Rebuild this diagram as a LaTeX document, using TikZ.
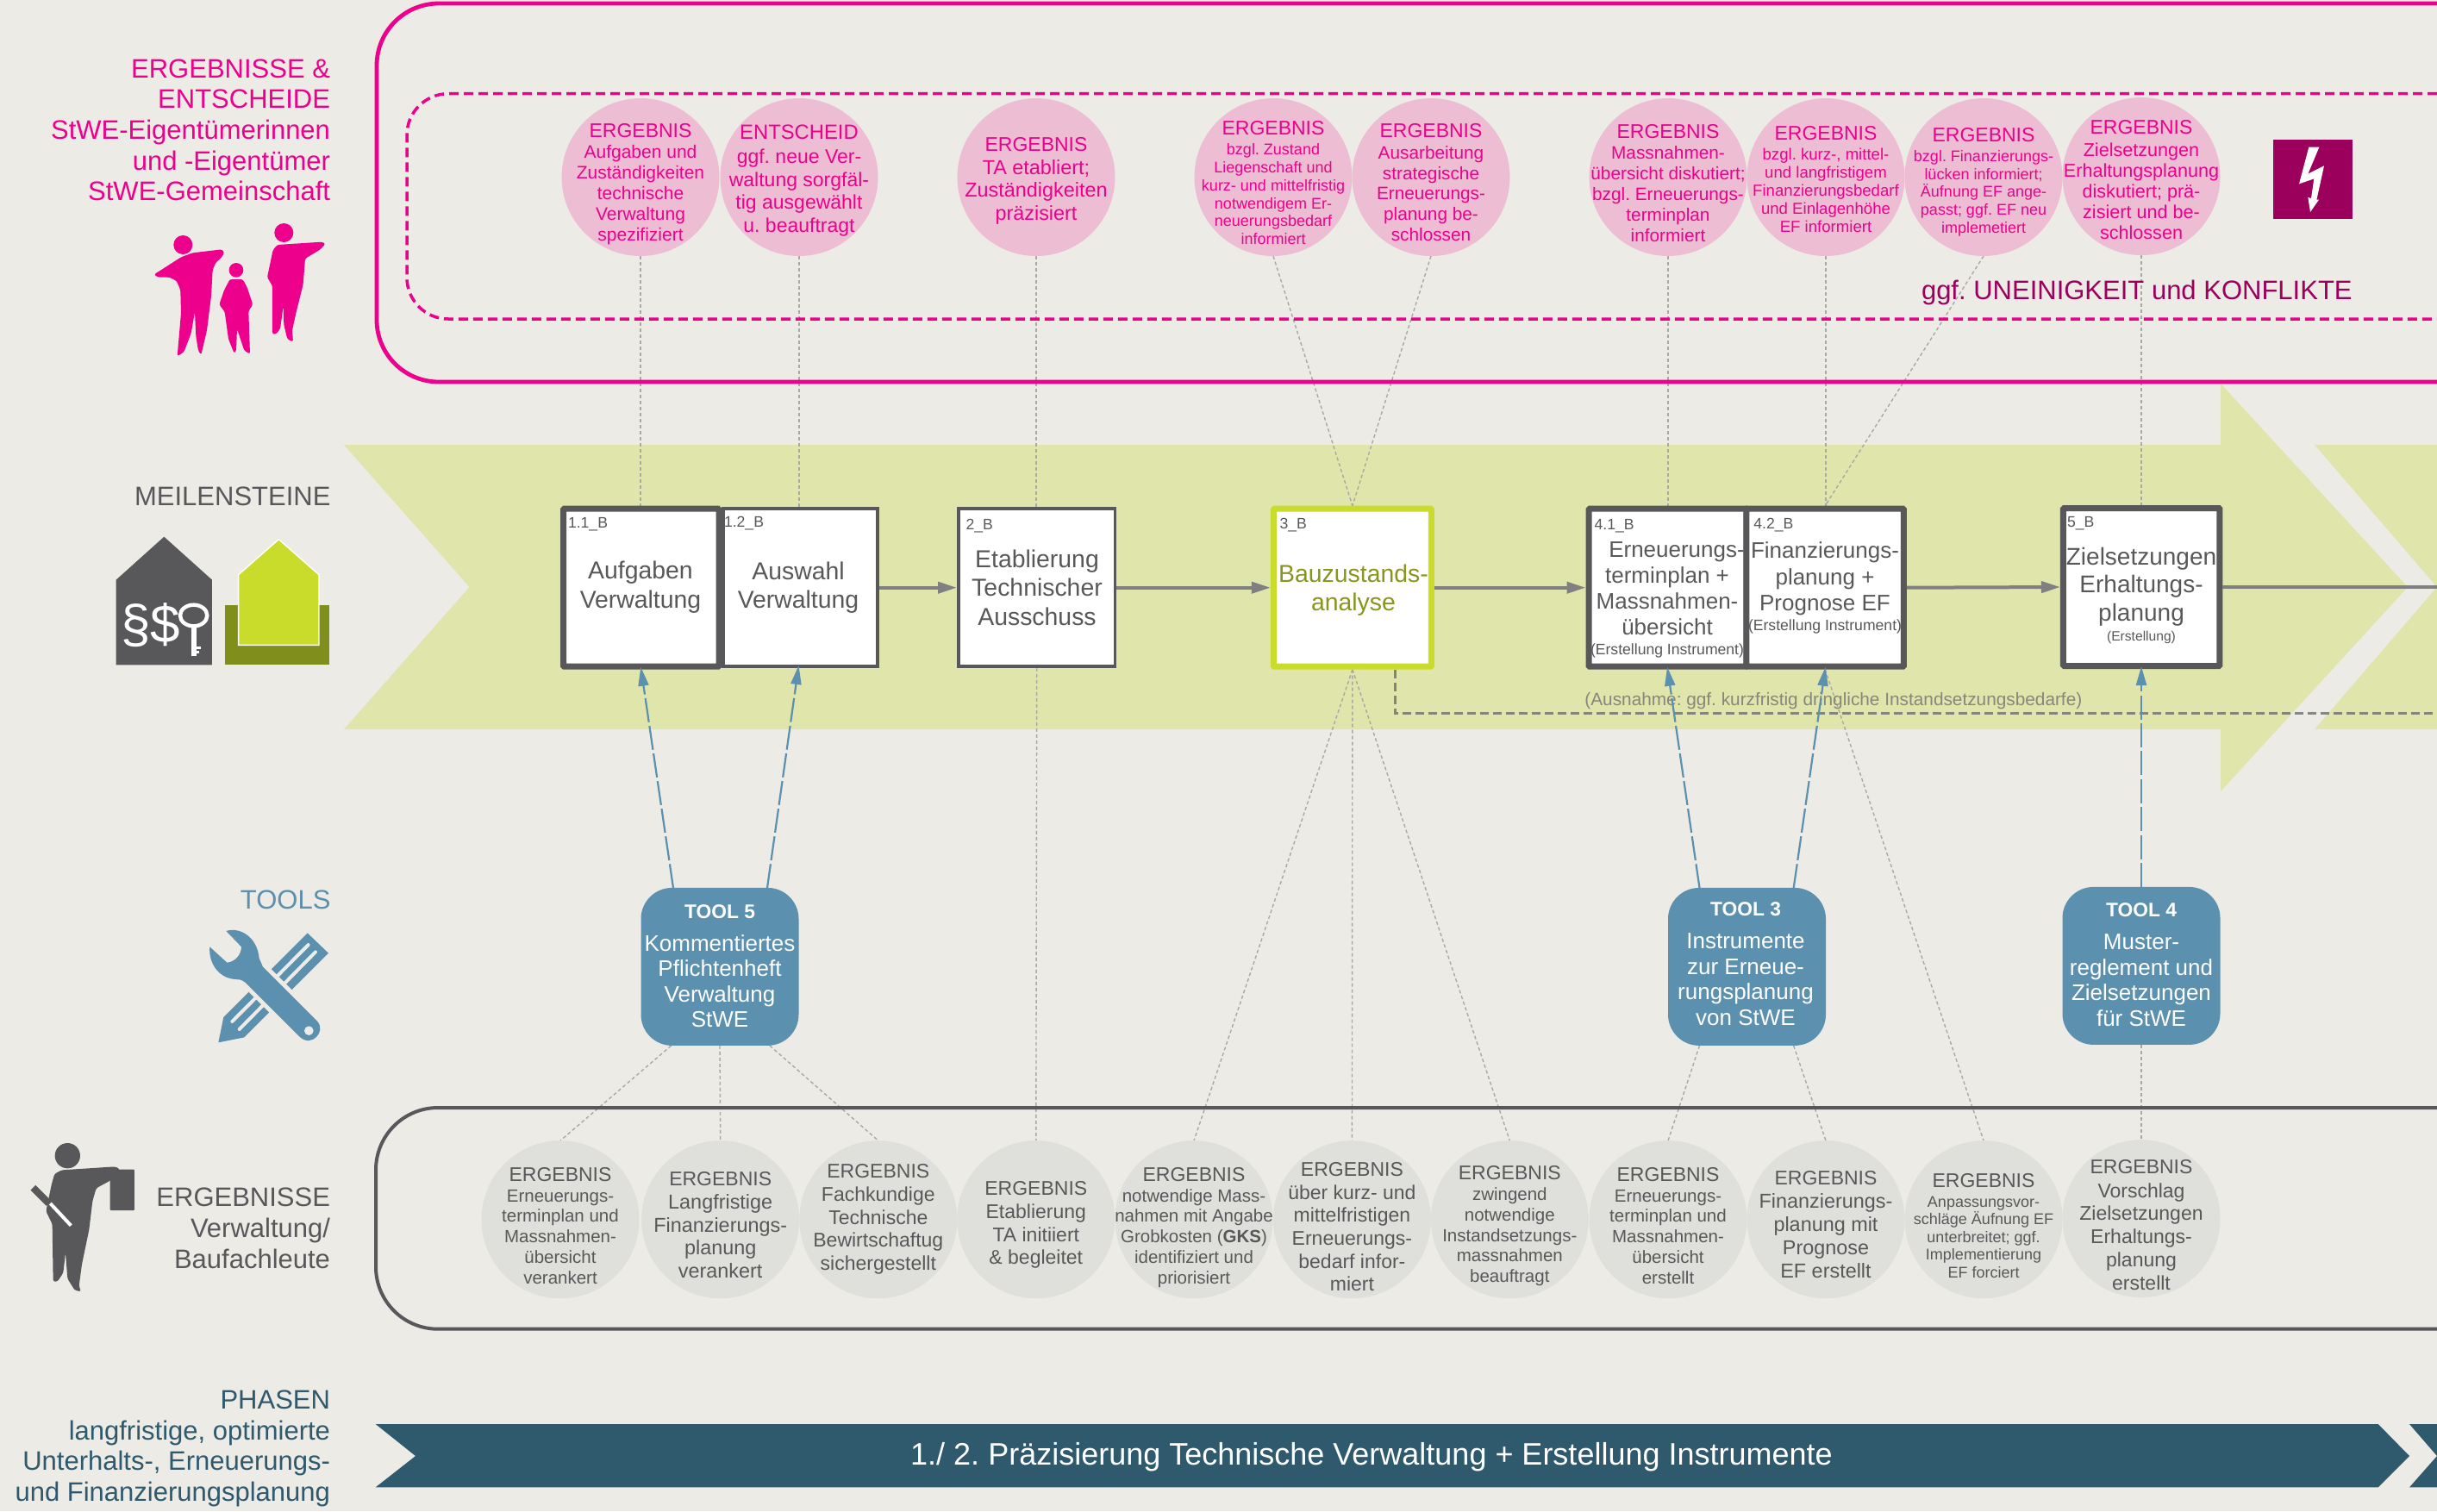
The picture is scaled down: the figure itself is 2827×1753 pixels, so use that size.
\documentclass[tikz,border=0pt]{standalone}
\usepackage{fontspec}
\setmainfont{Liberation Sans}
\usetikzlibrary{arrows.meta,shapes.geometric}
\frenchspacing
\definecolor{bgc}{HTML}{ECEBE6}
\definecolor{pinkc}{HTML}{EC008C}
\definecolor{pinkfill}{HTML}{ECBDD3}
\definecolor{magc}{HTML}{9B005D}
\definecolor{greyc}{HTML}{58585A}
\definecolor{limec}{HTML}{C9DB2B}
\definecolor{olivec}{HTML}{87961C}
\definecolor{bluec}{HTML}{5B90AE}
\definecolor{phasec}{HTML}{2F596D}
\definecolor{chevc}{HTML}{E0E5AC}
\definecolor{greyfill}{HTML}{DFDFDB}
\definecolor{arrowc}{HTML}{808080}
\definecolor{connc}{HTML}{A9A9A4}
\definecolor{notec}{HTML}{85887A}
\pgfdeclarelayer{back}\pgfdeclarelayer{conn}
\pgfsetlayers{back,conn,main}
\newcommand\fsz[2]{\fontsize{#1}{#2}\selectfont}
\newcommand\hd[1]{{\fsz{11.5}{12}#1}}
\tikzset{
  px/.style={x=0.5pt,y=-0.5pt},
  txt/.style={anchor=base,align=center,inner sep=0pt,outer sep=0pt},
  sidelabel/.style={anchor=base east,align=right,inner sep=0pt,outer sep=0pt,font=\fsz{15.5}{17.8}},
  pinkball/.style={circle,fill=pinkfill,minimum size=91.5pt,inner sep=0pt,outer sep=0pt},
  greyball/.style={circle,fill=greyfill,minimum size=91.5pt,inner sep=0pt,outer sep=0pt},
  pinktxt/.style={txt,text=pinkc},
  greytxt/.style={txt,text=greyc},
  boldbox/.style={rectangle,draw=greyc,fill=white,line width=3.5pt,minimum height=91.5pt,inner sep=0pt,rounded corners=0.5pt},
  thinbox/.style={rectangle,draw=greyc,fill=white,line width=1.75pt,minimum height=91.5pt,inner sep=0pt},
  limebox/.style={rectangle,draw=limec,fill=white,line width=3.5pt,minimum height=91.5pt,inner sep=0pt,rounded corners=0.5pt},
  boxid/.style={anchor=base west,inner sep=0pt,outer sep=0pt,text=greyc,font=\fsz{8.8}{10}},
  toolbox/.style={rectangle,fill=bluec,rounded corners=18pt,minimum width=91.5pt,minimum height=91.5pt,inner sep=0pt,outer sep=0pt},
  tooltxt/.style={txt,text=white,font=\fsz{13}{14.7}},
  flow/.style={draw=arrowc,line width=2pt,-{Triangle[length=11pt,width=6.5pt]}},
  flowend/.style={draw=arrowc,line width=2pt},
  thinconn/.style={draw=connc,line width=0.7pt,dash pattern=on 2pt off 1.5pt},
  toolarrow/.style={draw=bluec,line width=1.1pt,dash pattern=on 14pt off 2.2pt,shorten >=-1.5pt,-{Triangle[length=11pt,width=6pt]}},
  silhouette/.style={rounded corners=1.2pt,draw=none},
}
\newcommand\Ball[8]{% name,x,y,style,basey,size,leading,text
  \node[#4ball] (#1) at (#2,#3) {};
  \node[#4txt,font=\fsz{#6}{#7}] (#1t) at (#2,#5) {#8};}
\begin{document}
\begin{tikzpicture}[px]
\useasboundingbox (0,0) rectangle (2827,1753);
\begin{pgfonlayer}{back}
\fill[bgc] (0,0) rectangle (2827,1753);
% big chevrons
\fill[chevc] (399,516) -- (2576,516) -- (2576,445) -- (2793,681) -- (2576,918) -- (2576,846) -- (399,846) -- (544.6,681) -- cycle;
\fill[chevc] (2685,516) -- (2827,681) -- (2685,846) -- (2827,846) -- (2827,516) -- cycle;
% phase bar
\fill[phasec] (435.7,1652) -- (2758.7,1652) -- (2795,1689) -- (2758.7,1725.3) -- (435.7,1725.3) -- (482,1689) -- cycle;
\fill[phasec] (2795,1652) -- (2827,1689) -- (2795,1725.3) -- (2827,1725.3) -- (2827,1652) -- cycle;
\end{pgfonlayer}

% frames
\draw[pinkc,line width=2.4pt,rounded corners=36pt] (2827,4) -| (437,443) -- (2827,443);
\draw[pinkc,line width=1.75pt,dash pattern=on 5.5pt off 3pt,rounded corners=24pt] (2827,108.7) -| (472,370) -- (2827,370);
\draw[greyc,line width=2pt,rounded corners=36pt] (2827,1285) -| (436,1541.7) -- (2827,1541.7);

% side labels
\node[sidelabel,text=pinkc] (lab1) at (383,232.7) {ERGEBNISSE \&\\ENTSCHEIDE\\StWE-Eigentümerinnen\\und -Eigentümer\\StWE-Gemeinschaft};
\node[sidelabel,text=greyc] (lab2) at (383.5,586.7) {MEILENSTEINE};
\node[sidelabel,text=bluec] (lab3) at (383.5,1054) {TOOLS};
\node[sidelabel,text=greyc] (lab4) at (383,1471) {ERGEBNISSE\\Verwaltung/\\Baufachleute};
\node[sidelabel,text=phasec] (lab5) at (383,1741.5) {PHASEN\\langfristige, optimierte\\Unterhalts-, Erneuerungs-\\und Finanzierungsplanung};

% people icon
\begin{scope}[shift={(170,250)},x=0.5pt/3,y=-0.5pt/3]
\fill[pinkc] (127,102) circle[radius=33];
\fill[pinkc] (312,190) circle[radius=25];
\fill[pinkc] (478,60) circle[radius=33];
\fill[pinkc,silhouette] (120,145) -- (160,130) -- (262,118) -- (271,128) -- (262,145) -- (240,165) -- (230,190) -- (225,280) -- (210,400) -- (190,485) -- (180,470) -- (172,420) -- (168,335) -- (155,410) -- (130,475) -- (107,490) -- (120,340) -- (118,260) -- (105,228) -- (80,215) -- (40,215) -- (26,205) -- (50,190) -- cycle;
\fill[pinkc,silhouette] (290,222) -- (335,222) -- (350,250) -- (370,310) -- (355,332) -- (360,482) -- (340,470) -- (315,395) -- (312,470) -- (305,480) -- (285,430) -- (272,335) -- (253,310) -- (270,260) -- cycle;
\fill[pinkc,silhouette] (455,102) -- (610,92) -- (623,98) -- (605,118) -- (552,150) -- (545,240) -- (520,340) -- (507,400) -- (510,440) -- (490,430) -- (478,380) -- (476,315) -- (465,395) -- (450,413) -- (438,413) -- (438,245) -- (420,215) -- (440,120) -- cycle;
\end{scope}

% houses icon
\begin{scope}[shift={(120,610)},x=0.5pt/3,y=-0.5pt/3]
\fill[greyc] (44,188) -- (211,38) -- (378,188) -- (378,484) -- (44,484) -- cycle;
\fill[olivec!95!black] (423,276) rectangle (786,484);
\filldraw[fill=limec,draw=white,line width=0.7pt] (470,170) -- (610,47) -- (750,170) -- (750,415) -- (470,415) -- cycle;
\node[anchor=base west,inner sep=0pt,text=white,font=\fsz{31}{31}] (sym) at (60,405) {§\$};
\draw[white,line width=2.2pt] (314,312) ellipse[x radius=47,y radius=37];
\draw[white,line width=3pt] (314,348) -- (314,452);
\draw[white,line width=1.5pt] (318,425) -- (340,425) (318,440) -- (334,440);
\end{scope}

% lightning
\fill[magc] (2637,162) rectangle (2729,254);
\begin{scope}[shift={(2620,150)},x=0.5pt/3,y=-0.5pt/3]
\fill[white] (175,62) -- (211,62) -- (172,155) -- (228,127) -- (202,245) -- (210,245) -- (180,288) -- (172,237) -- (183,240) -- (193,172) -- (141,190) -- cycle;
\end{scope}
\node[anchor=base east,inner sep=0pt,text=magc,font=\fsz{15.5}{17}] (konf) at (2729,347) {ggf. UNEINIGKEIT und KONFLIKTE};

% tools icon
\begin{scope}[shift={(230,1070)},x=0.5pt/3,y=-0.5pt/3]
\fill[bluec] (380,37) -- (453,107) -- (160,400) -- (70,418) -- (88,330) -- cycle;
\draw[bgc,line width=2pt,line cap=round] (383,78) -- (118,345) (408,103) -- (143,372);
\path[draw=bgc,line width=5pt,line join=round] (225,155) -- (415,345) (165,210) -- (355,400);
\fill[bluec] (97,30) .. controls (145,15) and (205,50) .. (212,125) -- (225,155) -- (415,345) .. controls (445,380) and (395,435) .. (355,400) -- (165,210) .. controls (150,198) and (140,198) .. (130,198) .. controls (70,195) and (35,140) .. (40,85) -- (100,140) .. controls (125,138) and (150,115) .. (150,85) -- cycle;
\fill[bgc] (385,377) circle[radius=16];
\end{scope}

% man icon
\begin{scope}[shift={(20,1310)},x=0.5pt/3,y=-0.5pt/3]
\fill[greyc,rounded corners=0.5pt] (323,140) rectangle (408,282);
\fill[greyc] (175,92) circle[radius=44];
\draw[greyc,line width=4pt] (55,203) -- (110,258);
\fill[greyc,silhouette] (155,142) -- (340,130) -- (357,138) -- (350,150) -- (325,178) -- (275,205) -- (262,250) -- (250,350) -- (225,470) -- (215,545) -- (222,565) -- (200,560) -- (175,520) -- (168,430) -- (160,500) -- (140,530) -- (125,530) -- (122,330) -- (100,285) -- (120,190) -- (130,155) -- cycle;
\draw[white,line width=2pt] (115,258) -- (187,335);
\end{scope}

% pink balls
\Ball{e1}{743}{205.5}{pink}{279}{10.5}{12}{\hd{ERGEBNIS}\\Aufgaben und\\Zuständigkeiten\\technische\\Verwaltung\\spezifiziert}
\Ball{e2}{927}{205.5}{pink}{269}{11.5}{13.2}{{\fsz{11.9}{13}ENTSCHEID}\\[1.2pt]ggf. neue Ver-\\waltung sorgfäl-\\tig ausgewählt\\u. beauftragt}
\Ball{e3}{1202}{205.5}{pink}{255.5}{11.7}{13.3}{\hd{ERGEBNIS}\\TA etabliert;\\Zuständigkeiten\\präzisiert}
\Ball{e4}{1477}{205.5}{pink}{283.7}{9}{10.4}{\hd{ERGEBNIS}\\[1.2pt]bzgl. Zustand\\Liegenschaft und\\kurz- und mittelfristig\\notwendigem Er-\\neuerungsbedarf\\informiert}
\Ball{e5}{1660}{205.5}{pink}{279.3}{10.4}{11.85}{\hd{ERGEBNIS}\\[0.6pt]Ausarbeitung\\strategische\\Erneuerungs-\\planung be-\\schlossen}
\Ball{e6}{1935}{205.5}{pink}{280}{10.4}{11.9}{\hd{ERGEBNIS}\\[0.4pt]Massnahmen-\\übersicht diskutiert;\\bzgl. Erneuerungs-\\terminplan\\informiert}
\Ball{e7}{2118}{205.5}{pink}{269.3}{9.3}{10.5}{\hd{ERGEBNIS}\\[0.8pt]bzgl. kurz-, mittel-\\und langfristigem\\Finanzierungsbedarf\\und Einlagenhöhe\\EF informiert}
\Ball{e8}{2301}{205.5}{pink}{270}{9}{10.3}{\hd{ERGEBNIS}\\[1.2pt]bzgl. Finanzierungs-\\lücken informiert;\\Äufnung EF ange-\\passt; ggf. EF neu\\implemetiert}
\Ball{e9}{2484}{204.5}{pink}{277.3}{10.8}{12}{\hd{ERGEBNIS}\\[0.8pt]Zielsetzungen\\Erhaltungsplanung\\diskutiert; prä-\\zisiert und be-\\schlossen}

% milestone boxes
\node[thinbox,minimum width=89.3pt] (m2) at (928.5,681.7) {};
\node[boldbox,minimum width=90.25pt] (m1) at (743.75,681.7) {};
\node[thinbox,minimum width=90.9pt] (m3) at (1202.7,681.7) {};
\node[limebox,minimum width=91.5pt] (m4) at (1568.9,681.7) {};
\node[boldbox,minimum width=91.5pt] (m5) at (1934.5,681.7) {};
\node[boldbox,minimum width=91.25pt] (m6) at (2117.2,681.7) {};
\node[boldbox,minimum width=90.75pt] (m7) at (2484.2,681) {};
\node[boxid] (id1) at (659,612.7) {1.1\_B};
\node[boxid] (id2) at (840,611.7) {1.2\_B};
\node[boxid] (id3) at (1120.5,614) {2\_B};
\node[boxid] (id4) at (1484.6,613.3) {3\_B};
\node[boxid] (id5) at (1849.6,614.3) {4.1\_B};
\node[boxid] (id6) at (2034.3,613) {4.2\_B};
\node[boxid] (id7) at (2398,611.7) {5\_B};
\node[greytxt,font=\fsz{14.2}{16.6}] (m1t) at (743,705) {Aufgaben\\Verwaltung};
\node[greytxt,font=\fsz{14.2}{16.4}] (m2t) at (926,705) {Auswahl\\Verwaltung};
\node[greytxt,font=\fsz{14.2}{16.6}] (m3t) at (1203,725) {Etablierung\\Technischer\\Ausschuss};
\node[txt,text=olivec,font=\fsz{14.2}{16.6}] (m4t) at (1570,708.3) {Bauzustands-\\analyse};
\node[greytxt,font=\fsz{13}{15}] (m5t) at (1934,759.3) {\hspace*{11pt}Erneuerungs-\\terminplan +\\Massnahmen-\\übersicht\\[-3.7pt]{\fsz{8.8}{10}(Erstellung Instrument)}};
\node[greytxt,font=\fsz{13}{15.3}] (m6t) at (2117,731.7) {Finanzierungs-\\planung +\\Prognose EF\\[-3.9pt]{\fsz{8.8}{10}(Erstellung Instrument)}};
\node[greytxt,font=\fsz{14}{16.4}] (m7t) at (2484,743.3) {Zielsetzungen\\Erhaltungs-\\planung\\[-5.1pt]{\fsz{7.8}{9}(Erstellung)}};

% tools
\node[toolbox] (t5) at (835,1121.4) {};
\node[toolbox] (t3) at (2026.5,1121.4) {};
\node[toolbox] (t4) at (2484,1120.4) {};
\node[tooltxt] (t5t) at (835,1191.7) {{\fsz{11.4}{13}\bfseries TOOL 5}\\[4.3pt]Kommentiertes\\Pflichtenheft\\Verwaltung\\StWE};
\node[tooltxt] (t3t) at (2025,1189) {{\fsz{11.4}{13}\bfseries TOOL 3}\\[4.3pt]Instrumente\\zur Erneue-\\rungsplanung\\von StWE};
\node[tooltxt] (t4t) at (2484,1190) {{\fsz{11.4}{13}\bfseries TOOL 4}\\[4.3pt]Muster-\\reglement und\\Zielsetzungen\\für StWE};

% grey balls
\Ball{g1}{650}{1414.7}{grey}{1489.6}{10.25}{11.95}{\hd{ERGEBNIS}\\Erneuerungs-\\terminplan und\\Massnahmen-\\übersicht\\verankert}
\Ball{g2}{835.7}{1414.7}{grey}{1482.5}{11.7}{13.35}{\hd{ERGEBNIS}\\Langfristige\\Finanzierungs-\\planung\\verankert}
\Ball{g3}{1018.8}{1414.7}{grey}{1473.4}{11.5}{13.3}{\hd{ERGEBNIS}\\[0.4pt]Fachkundige\\Technische\\Bewirtschaftug\\sichergestellt}
\Ball{g4}{1201.8}{1414.7}{grey}{1466.8}{11.5}{13.4}{\hd{ERGEBNIS}\\Etablierung\\TA initiiert\\\& begleitet}
\Ball{g5}{1385}{1414.7}{grey}{1489.6}{10.25}{11.95}{\hd{ERGEBNIS}\\notwendige Mass-\\nahmen mit Angabe\\Grobkosten (\textbf{GKS})\\identifiziert und\\priorisiert}
\Ball{g6}{1568.4}{1414.7}{grey}{1497.7}{11.5}{13.3}{\hd{ERGEBNIS}\\über kurz- und\\mittelfristigen\\Erneuerungs-\\bedarf infor-\\miert}
\Ball{g7}{1751.3}{1414.7}{grey}{1487.6}{10.25}{11.9}{\hd{ERGEBNIS}\\zwingend\\notwendige\\Instandsetzungs-\\massnahmen\\beauftragt}
\Ball{g8}{1935}{1414.7}{grey}{1489.6}{10.25}{11.95}{\hd{ERGEBNIS}\\Erneuerungs-\\terminplan und\\Massnahmen-\\übersicht\\erstellt}
\Ball{g9}{2118}{1414.7}{grey}{1482}{11.7}{13.4}{\hd{ERGEBNIS}\\Finanzierungs-\\planung mit\\Prognose\\EF erstellt}
\Ball{g10}{2301}{1414.7}{grey}{1482.5}{9}{10.3}{\hd{ERGEBNIS}\\[1pt]Anpassungsvor-\\schläge Äufnung EF\\unterbreitet; ggf.\\Implementierung\\EF forciert}
\Ball{g11}{2484}{1413.7}{grey}{1496}{11.5}{13.35}{\hd{ERGEBNIS}\\[0.6pt]Vorschlag\\Zielsetzungen\\Erhaltungs-\\planung\\erstellt}

% phase text
\node[anchor=base,inner sep=0pt,text=white,font=\fsz{18}{20}] (phase) at (1591,1699.5) {1./ 2. Präzisierung Technische Verwaltung + Erstellung Instrumente};

% note under milestones
\node[anchor=base west,inner sep=0pt,text=notec,font=\fsz{10.4}{12}] (note) at (1838,818) {(Ausnahme: ggf. kurzfristig dringliche Instandsetzungsbedarfe)};

% free ends
\coordinate (offr) at (2827,681);
\coordinate (dashstart) at (1618.4,776.7);
\coordinate (dashcorner) at (1618.4,827.7);
\coordinate (dashend) at (2827,827.7);
\coordinate (t5a) at (781,1030);
\coordinate (t5b) at (890,1030);
\coordinate (t3a) at (1971.5,1030);
\coordinate (t3b) at (2080.7,1030);
\coordinate (t5c) at (778.6,1213);
\coordinate (t5d) at (893,1213);
\coordinate (t3c) at (1971.5,1213);
\coordinate (t3d) at (2080.7,1213);

% flow arrows
\draw[flow] (m2.east) -- (m3.west);
\draw[flow] (m3.east) -- (m4.west);
\draw[flow] (m4.east) -- (m5.west);
\draw[flow] (m6.east) -- (m7.west);
\draw[flowend] (m7.east) -- (offr);
% dashed elbow
\draw[draw=arrowc!85!black,draw opacity=0.8,line width=1.5pt,dash pattern=on 5pt off 2.5pt] (dashstart) -- (dashcorner) -- (dashend);
% tool arrows
\draw[toolarrow] (t5a) -- (m1.south);
\draw[toolarrow] (t5b) -- ([xshift=-1.2pt]m2.south);
\draw[toolarrow] (t3a) -- (m5.south);
\draw[toolarrow] (t3b) -- (m6.south);
\draw[toolarrow] (t4.north) -- (t4.north |- m7.south);

% thin connectors beneath nodes
\begin{pgfonlayer}{conn}
\draw[thinconn] (e1.south) -- (e1.south |- m1.north);
\draw[thinconn] (e2.south) -- (e2.south |- m2.north);
\draw[thinconn] (e3.south) -- (e3.south |- m3.north);
\draw[thinconn] (e4.south) -- (m4.north);
\draw[thinconn] (e5.south) -- (m4.north);
\draw[thinconn] (e6.south) -- (e6.south |- m5.north);
\draw[thinconn] (e7.south) -- (e7.south |- m6.north);
\draw[thinconn] (e8.south) -- (m6.north);
\draw[thinconn] (e9.south) -- (e9.south |- m7.north);
\draw[thinconn] (t5c) -- (g1.north);
\draw[thinconn] (t5.south) -- (g2.north);
\draw[thinconn] (t5d) -- (g3.north);
\draw[thinconn] (m3.south) -- (g4.north);
\draw[thinconn] (m4.south) -- (g5.north);
\draw[thinconn] (m4.south) -- (g6.north);
\draw[thinconn] (m4.south) -- (g7.north);
\draw[thinconn] (t3c) -- (g8.north);
\draw[thinconn] (t3d) -- (g9.north);
\draw[thinconn] (m6.south) -- (g10.north);
\draw[thinconn] (t4.south) -- (g11.north);
\end{pgfonlayer}
\end{tikzpicture}
\end{document}
